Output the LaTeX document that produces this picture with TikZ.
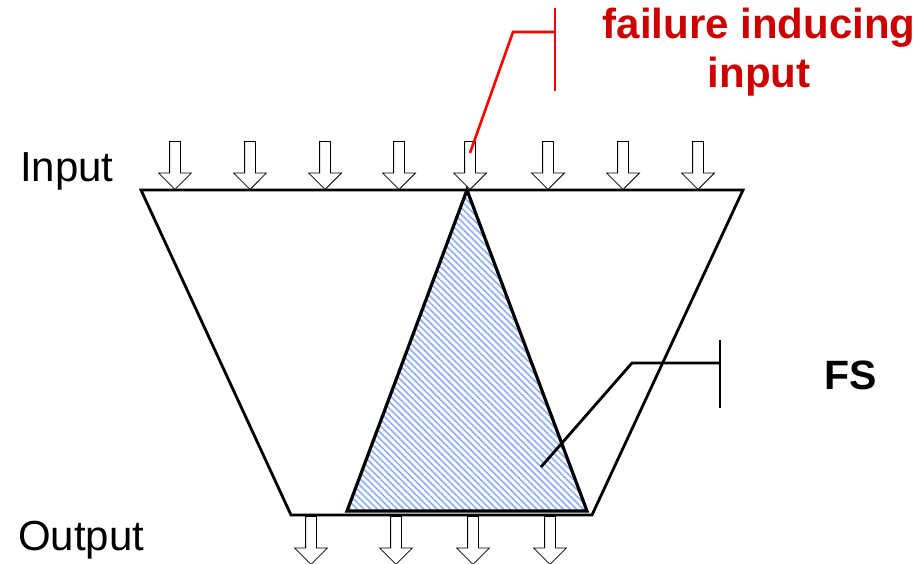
\documentclass[tikz,border=0pt]{standalone}
\usepackage{fontspec}
\setmainfont{Liberation Sans}
\usetikzlibrary{shapes.arrows,patterns.meta}
\definecolor{failred}{RGB}{204,0,0}
\definecolor{hatchblue}{RGB}{145,178,242}
\tikzset{
  flowarrow/.style={
    single arrow, draw=black, fill=white, line width=0.8pt,
    minimum height=48pt, minimum width=0pt,
    single arrow head extend=11pt, inner xsep=0pt, inner ysep=5pt,
    rotate=-90
  },
  label/.style={inner sep=0pt, font=\fontsize{42}{49}\selectfont},
  boldlabel/.style={label, font=\bfseries\fontsize{41}{49}\selectfont},
  outline/.style={draw=black, line width=2.8pt, line join=miter},
  leader/.style={draw=black, line width=2.8pt},
  failleader/.style={draw=red, line width=2.6pt}
}
\begin{document}
\begin{tikzpicture}[x=1pt, y=-1pt]
  \useasboundingbox (0,0) rectangle (922,564);

  % funnel and failure region
  \draw[outline] (141,190) -- (743,190) -- (592,515) -- (291,515) -- cycle;
  \coordinate (apex) at (467,190);
  \draw[outline, line width=3.2pt, pattern={Lines[angle=-45,distance=4.7pt,line width=1.7pt]},
    pattern color=hatchblue] (apex) -- (587,511) -- (347,511) -- cycle;

  % inputs and outputs
  \foreach \x [count=\i] in {175,250,325,399,470,548,623,698}
    \node[flowarrow, anchor=tip] (in\i) at (\x,190) {};
  \foreach \x [count=\i] in {311,396,473,550}
    \node[flowarrow, anchor=tail] (out\i) at (\x,516) {};

  % labels
  \node[label, anchor=base west] (inlabel) at (20,182) {Input};
  \node[label, anchor=base west] (outlabel) at (18,550) {Output};
  \node[boldlabel, anchor=base west] (fslabel) at (824,389) {FS};
  \node[boldlabel, font=\bfseries\fontsize{42}{49}\selectfont, text=failred,
    align=center, anchor=base] (faillabel) at (759,88) {failure inducing\\input};

  % leader lines
  \coordinate (failpoint) at (470,153);
  \coordinate (failbend) at (513,32);
  \coordinate (failbar) at (555,32);
  \draw[failleader] (failpoint) -- (failbend) -- (failbar);
  \draw[failleader] (555,8) -- (555,91);
  \coordinate (fspoint) at (541,467);
  \coordinate (fsbend) at (632,363);
  \coordinate (fsbar) at (720,363);
  \draw[leader] (fspoint) -- (fsbend) -- (fsbar);
  \draw[leader] (720,340) -- (720,408);
\end{tikzpicture}
\end{document}
